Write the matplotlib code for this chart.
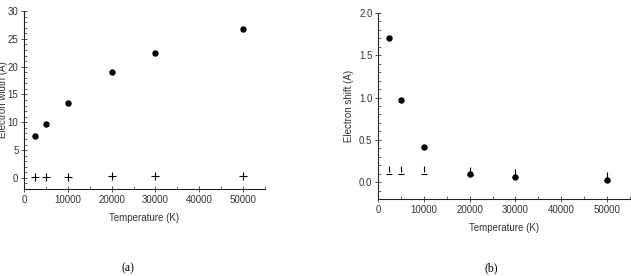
import matplotlib
matplotlib.use("Agg")
import matplotlib.pyplot as plt
from matplotlib.path import Path
from matplotlib.ticker import MultipleLocator, FormatStrFormatter

temps = [2500, 5000, 10000, 20000, 30000, 50000]
width_main = [7.6, 9.7, 13.5, 19.0, 22.5, 26.8]
width_small = [0.2, 0.2, 0.2, 0.25, 0.3, 0.4]
shift_main = [1.71, 0.97, 0.41, 0.09, 0.06, 0.03]
shift_small = [0.09, 0.09, 0.09, 0.08, 0.06, 0.03]

plt.rcParams['font.family'] = ['Liberation Sans', 'DejaVu Sans']

fig = plt.figure(figsize=(6.31, 2.76), dpi=100)
ax1 = fig.add_axes([24/631, 1-189/276, 241/631, 178/276])
ax2 = fig.add_axes([378/631, 1-199/276, 252/631, 186/276])

# custom marker: dash at the value with a short vertical tick above it
verts = [(-3, 0), (3, 0), (0, 2.5), (0, 8)]
codes = [Path.MOVETO, Path.LINETO, Path.MOVETO, Path.LINETO]
tee = Path(verts, codes)

ax1.plot(temps, width_main, 'o', color='black', markersize=3.6)
ax1.plot(temps, width_small, '+', color='black', markersize=5.5, markeredgewidth=0.8)
ax1.set_xlim(0, 55000)
ax1.set_ylim(-2, 30)
ax1.xaxis.set_major_locator(MultipleLocator(10000))
ax1.xaxis.set_minor_locator(MultipleLocator(5000))
ax1.yaxis.set_major_locator(MultipleLocator(5))
ax1.yaxis.set_minor_locator(MultipleLocator(1))
ax1.set_xlabel('Temperature (K)', fontsize=7, color='#333333', labelpad=6)
ax1.set_ylabel('Electron width (A)', fontsize=7, color='#333333')
ax1.yaxis.set_label_coords(-15.5/241, 0.5)

ax2.plot(temps, shift_small, linestyle='none', marker=tee, color='black',
         markersize=11, markeredgewidth=0.8, markerfacecolor='none')
ax2.plot(temps, shift_main, 'o', color='black', markersize=3.6)
ax2.set_xlim(0, 55000)
ax2.set_ylim(-0.2, 2.0)
ax2.xaxis.set_major_locator(MultipleLocator(10000))
ax2.xaxis.set_minor_locator(MultipleLocator(5000))
ax2.yaxis.set_major_locator(MultipleLocator(0.5))
ax2.yaxis.set_minor_locator(MultipleLocator(0.1))
ax2.yaxis.set_major_formatter(FormatStrFormatter('%.1f'))
ax2.set_xlabel('Temperature (K)', fontsize=7, color='#333333', labelpad=6)
ax2.set_ylabel('Electron shift (A)', fontsize=7, color='#333333', labelpad=4)

for ax in (ax1, ax2):
    for s in ('top', 'right'):
        ax.spines[s].set_visible(False)
    for s in ('left', 'bottom'):
        ax.spines[s].set_linewidth(0.8)
        ax.spines[s].set_color('#222222')
    ax.tick_params(which='major', direction='inout', length=4, width=0.6,
                   labelsize=7, labelcolor='#333333', color='#333333', pad=2)
    ax.tick_params(which='minor', direction='in', length=2, width=0.5, color='#333333')

fig.text(128/631, 1-268/276, '(a)', ha='center', va='center', fontsize=8.5,
         family=['Liberation Serif', 'DejaVu Serif'])
fig.text(491/631, 1-268/276, '(b)', ha='center', va='center', fontsize=8.5,
         family=['Liberation Serif', 'DejaVu Serif'])

fig.savefig('out.png', dpi=100)
